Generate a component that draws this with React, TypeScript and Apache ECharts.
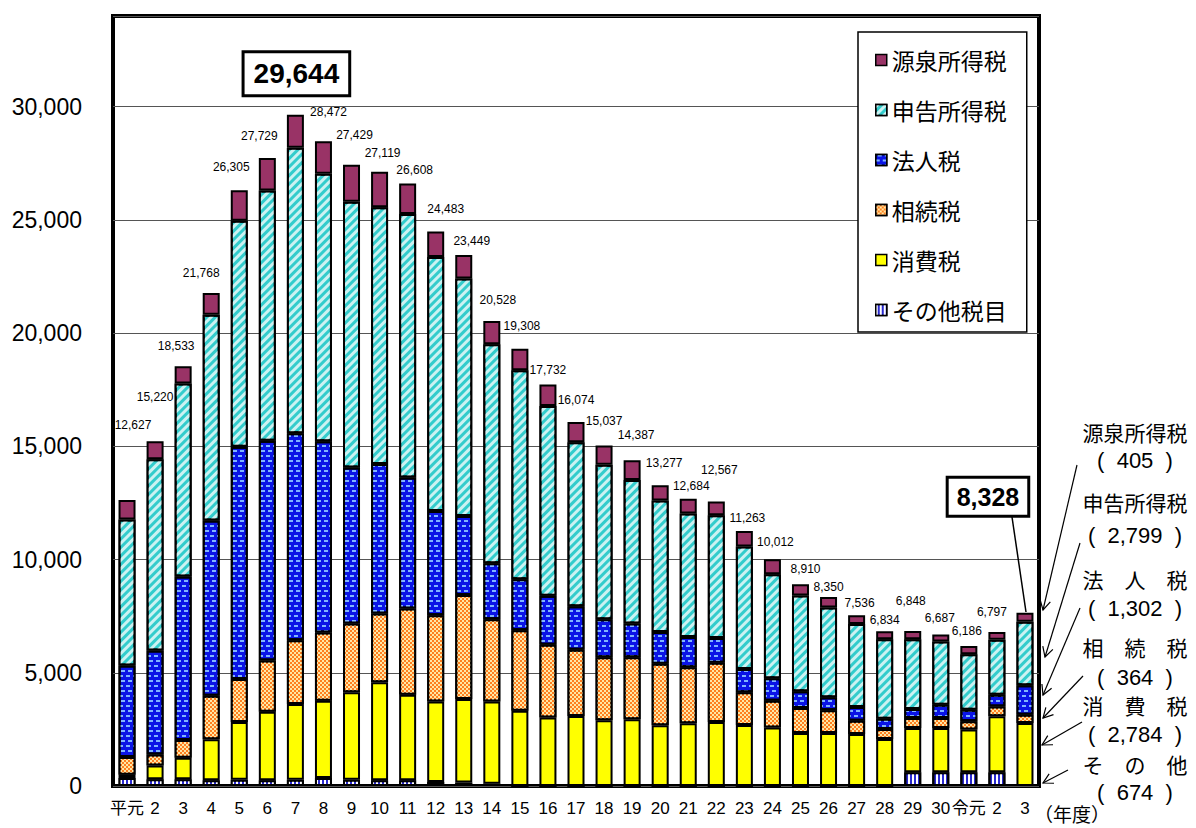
import React, { useEffect, useRef } from 'react';
import * as echarts from 'echarts';

// ---- data ----
const categories = ['平元', '2', '3', '4', '5', '6', '7', '8', '9', '10', '11', '12', '13', '14', '15', '16', '17', '18', '19', '20', '21', '22', '23', '24', '25', '26', '27', '28', '29', '30', '令元', '2', '3'];

const sonota = [350, 300, 300, 250, 280, 250, 280, 350, 280, 250, 250, 180, 150, 100, 0, 0, 0, 0, 0, 0, 0, 0, 0, 0, 0, 0, 0, 0, 610, 610, 610, 610, null];
const shohi = [150, 600, 945, 1810, 2550, 3025, 3340, 3415, 3855, 4330, 3780, 3555, 3690, 3635, 3320, 3025, 3095, 2905, 2950, 2680, 2770, 2830, 2695, 2580, 2340, 2340, 2300, 2080, 1950, 1950, 1880, 2465, 2784];
const sozoku = [780, 490, 785, 1930, 1900, 2270, 2815, 3010, 3040, 3040, 3810, 3810, 4595, 3630, 3555, 3215, 2920, 2785, 2740, 2715, 2475, 2610, 1440, 1185, 1105, 1000, 585, 440, 440, 440, 365, 440, 364];
const hojin = [4040, 4590, 7220, 7735, 10255, 9705, 9145, 8450, 6890, 6595, 5780, 4595, 3485, 2475, 2250, 2165, 1925, 1675, 1480, 1410, 1335, 1095, 1035, 995, 735, 575, 600, 455, 400, 590, 515, 515, 1302];
const shinkoku = [6450, 8450, 8520, 9080, 9970, 11040, 12600, 11805, 11735, 11335, 11635, 11220, 10490, 9665, 9235, 8370, 7235, 6815, 6345, 5805, 5455, 5425, 5410, 4595, 4230, 3965, 3670, 3510, 3085, 2790, 2450, 2425, 2799];
const gensen = [857, 790, 763, 963, 1350, 1439, 1464, 1442, 1629, 1569, 1353, 1123, 1039, 1023, 948, 957, 899, 857, 872, 667, 649, 607, 683, 657, 500, 470, 381, 349, 363, 307, 366, 342, 405];
const totals = [12627, 15220, 18533, 21768, 26305, 27729, 29644, 28472, 27429, 27119, 26608, 24483, 23449, 20528, 19308, 17732, 16074, 15037, 14387, 13277, 12684, 12567, 11263, 10012, 8910, 8350, 7536, 6834, 6848, 6687, 6186, 6797, 8328];

const legendNames = ['源泉所得税', '申告所得税', '法人税', '相続税', '消費税', 'その他税目'];
const noteNames = ['源泉所得税', '申告所得税', '法　人　税', '相　続　税', '消　費　税', 'そ　の　他'];
const noteValues = [405, 2799, 1302, 364, 2784, 674];

const yMax = 34000;
const yStep = 5000;

// ---- layout constants ----
const boxIndices = [6, 32];
const totalLabelOffsets = [
  [6, -75], [0, -44], [-7, -20], [-10, -20], [-8, -23], [-8, -22], [1, -41], [5, -29],
  [3, -30], [3, -19], [7, -13], [10, -23], [8, -14], [6, -21], [2, -23], [0, -14],
  [0, -22], [0, -24], [4, -25], [4, -22], [3, -13], [3, -31], [3, -13], [3, -17],
  [5, -15], [0, -10], [3, -12], [0, -11], [-2, -30], [-1, -17], [-2, -15], [-5, -20],
  [-37, -116],
];
const noteX = 1135;
const noteNameY = [432, 502, 579, 647, 705, 764];
const noteValueY = [460, 535, 608, 677, 734, 792];
const arrows = [
  [1077, 465, 1043, 610],
  [1080, 543, 1045, 657],
  [1080, 608, 1043, 695],
  [1083, 676, 1043, 718],
  [1082, 722, 1042, 745],
  [1068, 770, 1043, 783],
];
const leader = [1012, 517, 1026, 612];

const FONT = "'Liberation Sans', 'Noto Sans CJK JP', sans-serif";
const JP = "'Noto Sans CJK JP', sans-serif";

const decalShinkoku = { symbol: 'rect', symbolSize: 1, dashArrayX: [1, 0], dashArrayY: [2.5, 2.5], rotation: -Math.PI / 4, color: 'rgba(255,255,255,0.75)' };
const decalHojin = { symbol: 'rect', symbolSize: 1, dashArrayX: [[4, 3], [0, 2, 4, 1]], dashArrayY: [1.5, 2.5], color: '#80B4FF' };
const decalSozoku = { symbol: 'rect', symbolSize: 1, dashArrayX: [[2, 2], [0, 2, 2, 0]], dashArrayY: [2, 0], color: '#FFE7A6' };
const decalSonota = { symbol: 'rect', symbolSize: 1, dashArrayX: [1.5, 1.5], dashArrayY: [1, 0], color: '#FFFFFF' };

function arrowHead(x1: number, y1: number, x2: number, y2: number) {
  const a = Math.atan2(y1 - y2, x1 - x2);
  const L = 11;
  const t = 0.5;
  return [
    [x2 + L * Math.cos(a + t), y2 + L * Math.sin(a + t)],
    [x2, y2],
    [x2 + L * Math.cos(a - t), y2 + L * Math.sin(a - t)],
  ];
}

export default function App() {
  const ref = useRef<HTMLDivElement>(null);

  useEffect(() => {
    if (!ref.current) return;
    const chart = echarts.init(ref.current, undefined, { renderer: 'svg' });

    const seriesDefs: any[] = [
      { name: 'その他税目', data: sonota, color: '#2A2AD0', decal: decalSonota },
      { name: '消費税', data: shohi, color: '#FFFF00' },
      { name: '相続税', data: sozoku, color: '#FF7F1F', decal: decalSozoku },
      { name: '法人税', data: hojin, color: '#0A14E6', decal: decalHojin },
      { name: '申告所得税', data: shinkoku, color: '#33CCCC', decal: decalShinkoku },
      { name: '源泉所得税', data: gensen, color: '#993366' },
    ];

    const series = seriesDefs.map((d, si) => {
      const isTop = si === seriesDefs.length - 1;
      const data = isTop
        ? d.data.map((v: number, i: number) => {
            const box = boxIndices.indexOf(i) >= 0;
            const lab: any = { offset: totalLabelOffsets[i] };
            if (box) {
              Object.assign(lab, {
                fontSize: i === 6 ? 28 : 25,
                fontWeight: 'bold',
                fontFamily: "'Liberation Sans Narrow', 'Liberation Sans', sans-serif",
                borderColor: '#000',
                borderWidth: 3,
                padding: i === 6 ? [7, 9, 6, 9] : [6, 8, 5, 8],
                backgroundColor: '#fff',
              });
            }
            return { value: v, label: lab };
          })
        : d.data;
      return {
        name: d.name,
        type: 'bar',
        stack: 'total',
        barWidth: 17,
        data,
        itemStyle: {
          color: d.color,
          borderColor: '#000',
          borderWidth: 2,
          decal: d.decal,
        },
        emphasis: { disabled: true },
        label: isTop
          ? {
              show: true,
              position: 'top',
              distance: 0,
              align: 'center',
              verticalAlign: 'middle',
              fontSize: 12,
              color: '#000',
              fontFamily: FONT,
              formatter: (p: any) => totals[p.dataIndex].toLocaleString('en-US'),
            }
          : { show: false },
      };
    });

    const graphics: any[] = [];
    noteNames.forEach((n, i) => {
      graphics.push({
        type: 'text', x: noteX, y: noteNameY[i], z: 10,
        style: { text: n, fill: '#000', fontSize: 21, fontFamily: JP, align: 'center', verticalAlign: 'middle', textAlign: 'center', textVerticalAlign: 'middle' },
      });
      graphics.push({
        type: 'text', x: noteX, y: noteValueY[i], z: 10,
        style: { text: '(  ' + noteValues[i].toLocaleString('en-US') + '  )', fill: '#000', fontSize: 22, fontFamily: "'Liberation Sans', sans-serif", align: 'center', verticalAlign: 'middle', textAlign: 'center', textVerticalAlign: 'middle' },
      });
    });
    arrows.forEach((a) => {
      graphics.push({ type: 'line', z: 10, shape: { x1: a[0], y1: a[1], x2: a[2], y2: a[3] }, style: { stroke: '#000', lineWidth: 1.2 } });
      graphics.push({ type: 'polyline', z: 10, shape: { points: arrowHead(a[0], a[1], a[2], a[3]) }, style: { stroke: '#000', lineWidth: 1.2, fill: null } });
    });
    graphics.push({ type: 'line', z: 10, shape: { x1: leader[0], y1: leader[1], x2: leader[2], y2: leader[3] }, style: { stroke: '#000', lineWidth: 1.5 } });
    graphics.push({
      type: 'text', x: 1072, y: 813, z: 10,
      style: { text: '（年度）', fill: '#000', fontSize: 19, fontFamily: JP, align: 'center', verticalAlign: 'middle', textAlign: 'center', textVerticalAlign: 'middle' },
    });

    const option: any = {
      animation: false,
      backgroundColor: '#fff',
      textStyle: { fontFamily: FONT },
      grid: {
        left: 113, right: 157, top: 16, bottom: 42,
        show: true, borderColor: '#000', borderWidth: 4, backgroundColor: 'transparent',
      },
      legend: {
        orient: 'vertical',
        left: 858,
        top: 32,
        padding: [15, 20, 9, 17],
        itemGap: 24,
        itemWidth: 11,
        itemHeight: 11,
        icon: 'rect',
        backgroundColor: '#fff',
        borderColor: '#000',
        borderWidth: 1.5,
        selectedMode: false,
        data: legendNames,
        itemStyle: { borderColor: '#000', borderWidth: 1.5 },
        textStyle: { fontSize: 23, fontFamily: JP, color: '#000', lineHeight: 26 },
      },
      xAxis: {
        type: 'category',
        data: categories,
        axisLine: { show: false },
        axisTick: { show: false },
        axisLabel: { interval: 0, fontSize: 17, color: '#000', margin: 14, fontFamily: FONT },
      },
      yAxis: {
        type: 'value',
        min: 0,
        max: yMax,
        interval: yStep,
        axisLine: { show: false },
        axisTick: { show: false },
        axisLabel: {
          fontSize: 23, color: '#000', margin: 31, fontFamily: FONT,
          formatter: (v: number) => (v > 30000 ? '' : v.toLocaleString('en-US')),
        },
        splitLine: { lineStyle: { color: '#555', width: 1 } },
      },
      series,
      graphic: graphics,
    };

    chart.setOption(option);
    return () => chart.dispose();
  }, []);

  return (
    <div
      ref={ref}
      style={{ position: 'fixed', left: 0, top: 0, width: 1196, height: 828, background: '#fff' }}
    />
  );
}
